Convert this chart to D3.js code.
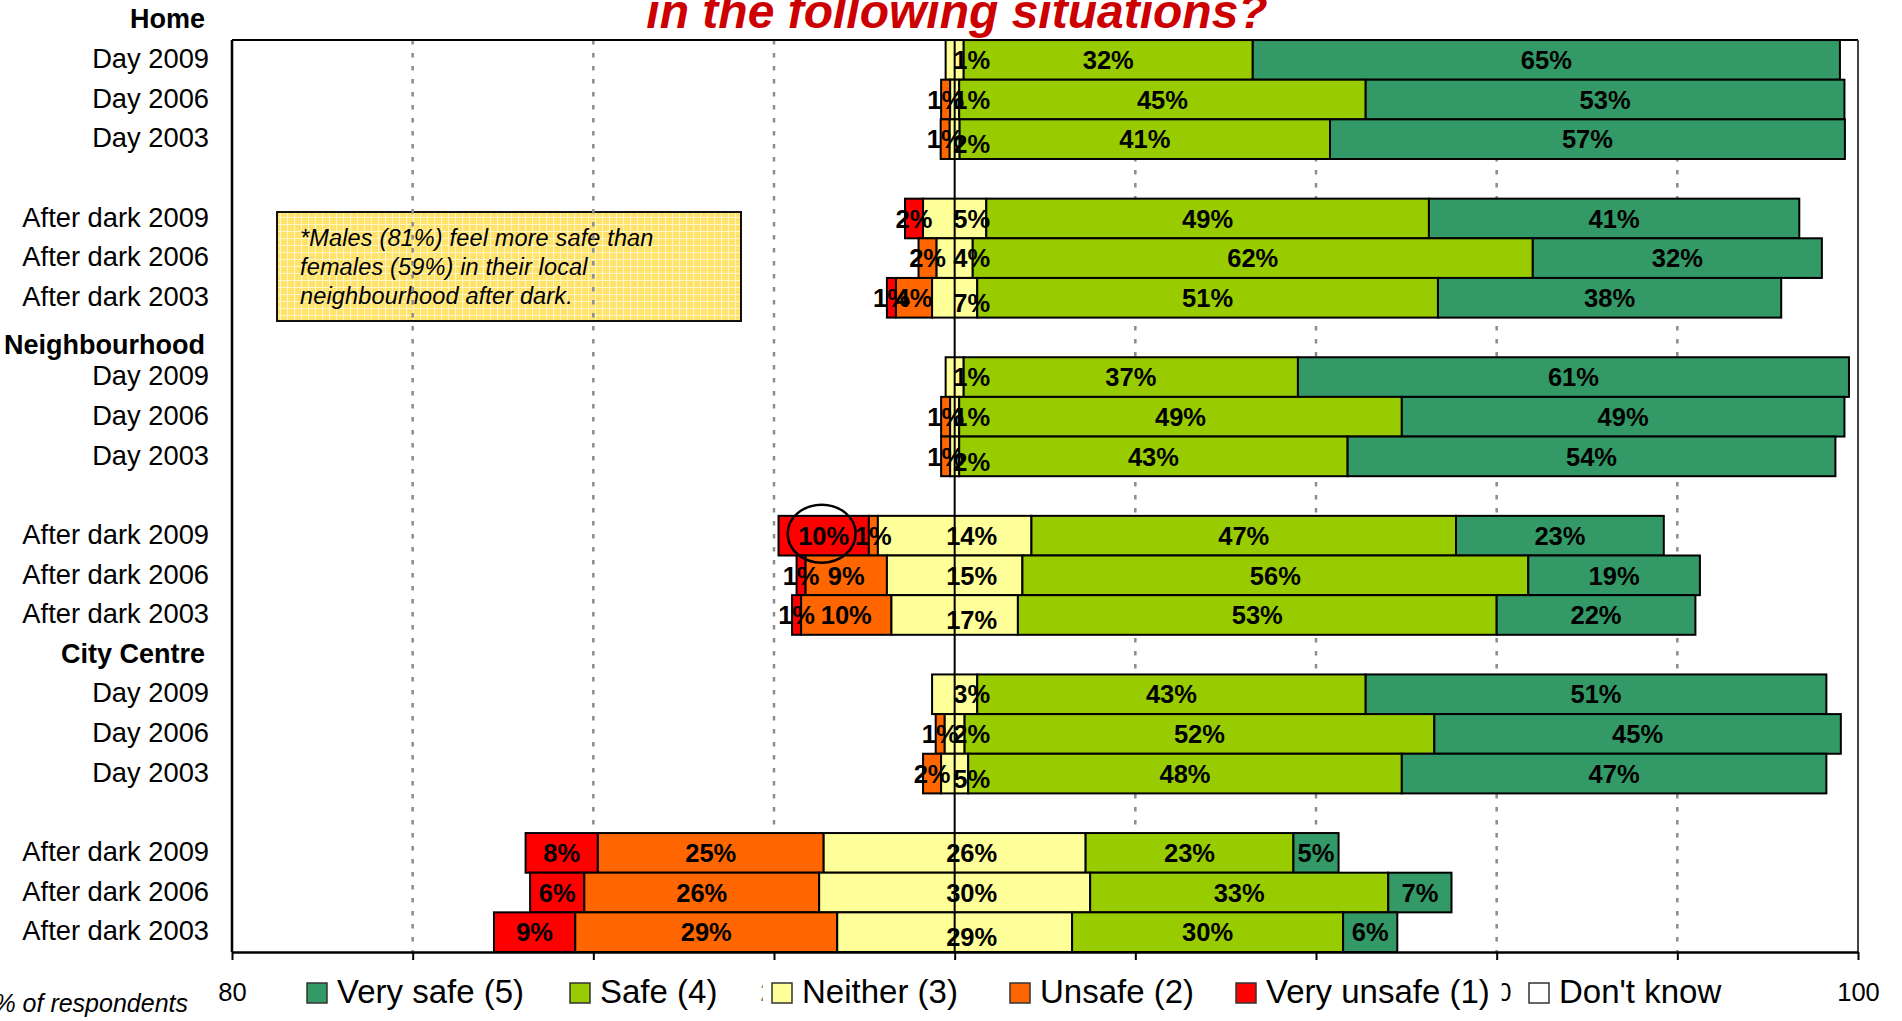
<!DOCTYPE html>
<html>
<head>
<meta charset="utf-8">
<script src="https://cdn.jsdelivr.net/npm/d3@7/dist/d3.min.js"></script>
<style>
  html, body { margin: 0; padding: 0; background: #ffffff; }
  svg { display: block; font-family: "Liberation Sans", Arial, sans-serif; }
</style>
</head>
<body>
<svg id="chart" width="1902" height="1021"></svg>
<script>
// ---------------- DATA ----------------
const groups = ["Home", "Neighbourhood", "City Centre"];
const rowLabels = ["Day 2009", "Day 2006", "Day 2003", "After dark 2009", "After dark 2006", "After dark 2003"];
const rowYears = [2009, 2006, 2003, 2009, 2006, 2003];

// 18 rows, group-major (Home, Neighbourhood, City Centre), rows as in rowLabels
const veryUnsafe = [0, 0, 0,   2, 0, 1,    0, 0, 0,   10, 1, 1,    0, 0, 0,   8, 6, 9];
const unsafe     = [0, 1, 1,   0, 2, 4,    0, 1, 1,   1, 9, 10,    0, 1, 2,   25, 26, 29];
const neither    = [1, 1, 2,   5, 4, 7,    1, 1, 2,   14, 15, 17,  3, 2, 5,   26, 30, 29];
// width of the drawn middle (neither) bar
const neitherBar = [2, 1, 1.1, 7, 4, 5,    2, 1, 1,   17, 15, 14,  5, 2.2, 3, 29, 30, 26];
const safe       = [32, 45, 41, 49, 62, 51, 37, 49, 43, 47, 56, 53, 43, 52, 48, 23, 33, 30];
const verySafe   = [65, 53, 57, 41, 32, 38, 61, 49, 54, 23, 19, 22, 51, 45, 47, 5, 7, 6];

const seriesNames = ["Very safe (5)", "Safe (4)", "Neither (3)", "Unsafe (2)", "Very unsafe (1)", "Don't know"];
const tickValues = [-80, -60, -40, -20, 0, 20, 40, 60, 80, 100];

const titleText = "in the following situations?";
const noteLines = ["*Males (81%) feel more safe than", "females (59%) in their local", "neighbourhood after dark."];
const axisTitle = "% of respondents";

// ---------------- STYLE / LAYOUT ----------------
const colors = {
  "Very safe (5)": "#339966",
  "Safe (4)": "#99CC00",
  "Neither (3)": "#FFFF99",
  "Unsafe (2)": "#FF6600",
  "Very unsafe (1)": "#FF0000",
  "Don't know": "#FFFFFF"
};
const plot = { left: 232, right: 1858, top: 0.4, bottom: 952 };
const legendX = [307, 570, 772, 1010, 1236, 1529];
const headerDy = [0, 8, 0];

const svg = d3.select("#chart");

const x = d3.scaleLinear().domain([-80, 100]).range([plot.left, plot.right]);
const y = d3.scaleBand().domain(d3.range(24)).range([plot.top, plot.bottom]).padding(0);

function slotOfRow(i) {
  const g = Math.floor(i / 6), j = i % 6;
  return 1 + g * 8 + (j < 3 ? j : j + 1);
}
const frameTop = y(1);

// defs: pattern for note box
const defs = svg.append("defs");
const pat = defs.append("pattern").attr("id", "notePat").attr("width", 7).attr("height", 7)
  .attr("patternUnits", "userSpaceOnUse");
pat.append("rect").attr("width", 7).attr("height", 7).attr("fill", "#FFE26A");
pat.append("path").attr("d", "M0,0.5H7M0.5,0V7").attr("stroke", "#FFF6C8").attr("stroke-width", 1.2);

// ---------------- TITLE ----------------
svg.append("text")
  .attr("x", 957).attr("y", 28)
  .attr("text-anchor", "middle")
  .attr("font-size", 48).attr("font-weight", "bold").attr("font-style", "italic")
  .attr("fill", "#CC0000")
  .text(titleText);

// ---------------- NOTE BOX ----------------
svg.append("rect")
  .attr("x", 277).attr("y", 212).attr("width", 464).attr("height", 109)
  .attr("fill", "url(#notePat)").attr("stroke", "#111").attr("stroke-width", 2);
svg.append("g").selectAll("text").data(noteLines).join("text")
  .attr("x", 300).attr("y", (d, i) => 246 + i * 29)
  .attr("font-size", 23.5).attr("font-style", "italic").attr("letter-spacing", 0.15)
  .attr("fill", "#000")
  .text(d => d);

// ---------------- GRIDLINES ----------------
svg.append("g").selectAll("line").data(tickValues.filter(v => v !== 0 && v !== -80 && v !== 100)).join("line")
  .attr("x1", d => x(d)).attr("x2", d => x(d))
  .attr("y1", frameTop).attr("y2", plot.bottom)
  .attr("stroke", "#8c8c8c").attr("stroke-width", 2.5).attr("stroke-dasharray", "4.5,8.5");

// ---------------- BARS ----------------
const rows = d3.range(18).map(i => {
  const h = neitherBar[i] / 2;
  return {
    i,
    slot: slotOfRow(i),
    segs: [
      { key: "Very unsafe (1)", v: veryUnsafe[i], x0: -(h + unsafe[i] + veryUnsafe[i]), x1: -(h + unsafe[i]) },
      { key: "Unsafe (2)", v: unsafe[i], x0: -(h + unsafe[i]), x1: -h },
      { key: "Neither (3)", v: neither[i], x0: -h, x1: h },
      { key: "Safe (4)", v: safe[i], x0: h, x1: h + safe[i] },
      { key: "Very safe (5)", v: verySafe[i], x0: h + safe[i], x1: h + safe[i] + verySafe[i] }
    ]
  };
});

const barG = svg.append("g");
rows.forEach(r => {
  barG.selectAll(null).data(r.segs.filter(s => s.x1 - s.x0 > 0)).join("rect")
    .attr("x", s => x(s.x0)).attr("width", s => x(s.x1) - x(s.x0))
    .attr("y", y(r.slot)).attr("height", y.bandwidth())
    .attr("fill", s => colors[s.key])
    .attr("stroke", "#000").attr("stroke-width", 2);
});

// zero line on top of bars
svg.append("line")
  .attr("x1", x(0)).attr("x2", x(0)).attr("y1", frameTop).attr("y2", plot.bottom)
  .attr("stroke", "#000").attr("stroke-width", 2);

// ---------------- FRAME / AXES ----------------
svg.append("line").attr("x1", plot.left).attr("x2", plot.right).attr("y1", frameTop).attr("y2", frameTop)
  .attr("stroke", "#000").attr("stroke-width", 2);
svg.append("line").attr("x1", plot.right).attr("x2", plot.right).attr("y1", frameTop).attr("y2", plot.bottom)
  .attr("stroke", "#444").attr("stroke-width", 2);
svg.append("line").attr("x1", plot.left).attr("x2", plot.left).attr("y1", frameTop).attr("y2", plot.bottom)
  .attr("stroke", "#000").attr("stroke-width", 2.5);

const xAxis = d3.axisBottom(x).tickValues(tickValues).tickFormat(d => Math.abs(d))
  .tickSize(8).tickSizeOuter(0).tickPadding(23);
const axG = svg.append("g").attr("transform", `translate(0,${plot.bottom})`).call(xAxis);
axG.select(".domain").attr("stroke", "#000").attr("stroke-width", 2.5);
axG.selectAll(".tick line").attr("stroke", "#000").attr("stroke-width", 2);
axG.selectAll(".tick text").attr("font-size", 25.5).attr("fill", "#000")
  .attr("font-family", "'Liberation Sans', Arial, sans-serif");

// ---------------- DATA LABELS ----------------
const labG = svg.append("g").attr("font-size", 25.5).attr("font-weight", "bold").attr("fill", "#000")
  .attr("text-anchor", "middle");
rows.forEach(r => {
  const cy = y(r.slot) + y.bandwidth() / 2;
  const lowered = rowYears[r.i % 6] === 2003 ? 5 : 0;
  r.segs.forEach(s => {
    if (s.key !== "Neither (3)" && s.v <= 0) return;
    const isN = s.key === "Neither (3)";
    const lx = isN ? x(0) + 17 : x((s.x0 + s.x1) / 2);
    labG.append("text")
      .attr("x", lx).attr("y", cy + (isN ? lowered : 0))
      .attr("dy", "0.36em")
      .text(s.v + "%");
  });
});

// circle highlight around the 10% (Neighbourhood, after dark 2009)
{
  const r = rows[9];
  const s = r.segs[0];
  svg.append("ellipse")
    .attr("cx", x((s.x0 + s.x1) / 2) - 2).attr("cy", y(r.slot) + y.bandwidth() / 2 - 2)
    .attr("rx", 34).attr("ry", 29)
    .attr("fill", "none").attr("stroke", "#000").attr("stroke-width", 2.5);
}

// ---------------- CATEGORY LABELS ----------------
const catG = svg.append("g").attr("text-anchor", "end").attr("fill", "#000");
d3.range(18).forEach(i => {
  catG.append("text")
    .attr("x", 209).attr("y", y(slotOfRow(i)) + y.bandwidth() / 2)
    .attr("dy", "0.3em").attr("font-size", 27.3)
    .text(rowLabels[i % 6]);
});
groups.forEach((g, gi) => {
  catG.append("text")
    .attr("x", 205).attr("y", y(gi * 8) + y.bandwidth() / 2 + headerDy[gi])
    .attr("dy", "0.3em").attr("font-size", 27).attr("font-weight", "bold")
    .text(g);
});

// axis title
svg.append("text").attr("x", 188).attr("y", 1012).attr("text-anchor", "end")
  .attr("font-size", 25).attr("font-style", "italic").attr("fill", "#000")
  .text(axisTitle);

// ---------------- LEGEND ----------------
const legG = svg.append("g");
seriesNames.forEach((name, k) => {
  const gx = legendX[k];
  const item = legG.append("g");
  const bg = item.append("rect").attr("fill", "#fff");
  item.append("rect").attr("x", gx).attr("y", 983).attr("width", 20).attr("height", 20)
    .attr("fill", colors[name]).attr("stroke", "#333").attr("stroke-width", 1.5);
  const t = item.append("text").attr("x", gx + 30).attr("y", 1003)
    .attr("font-size", 33).attr("fill", "#000").text(name);
  const w = t.node().getComputedTextLength();
  bg.attr("x", gx - 9.5).attr("y", 970).attr("width", 30 + w + 9.5 + 12).attr("height", 46);
});
</script>
</body>
</html>
